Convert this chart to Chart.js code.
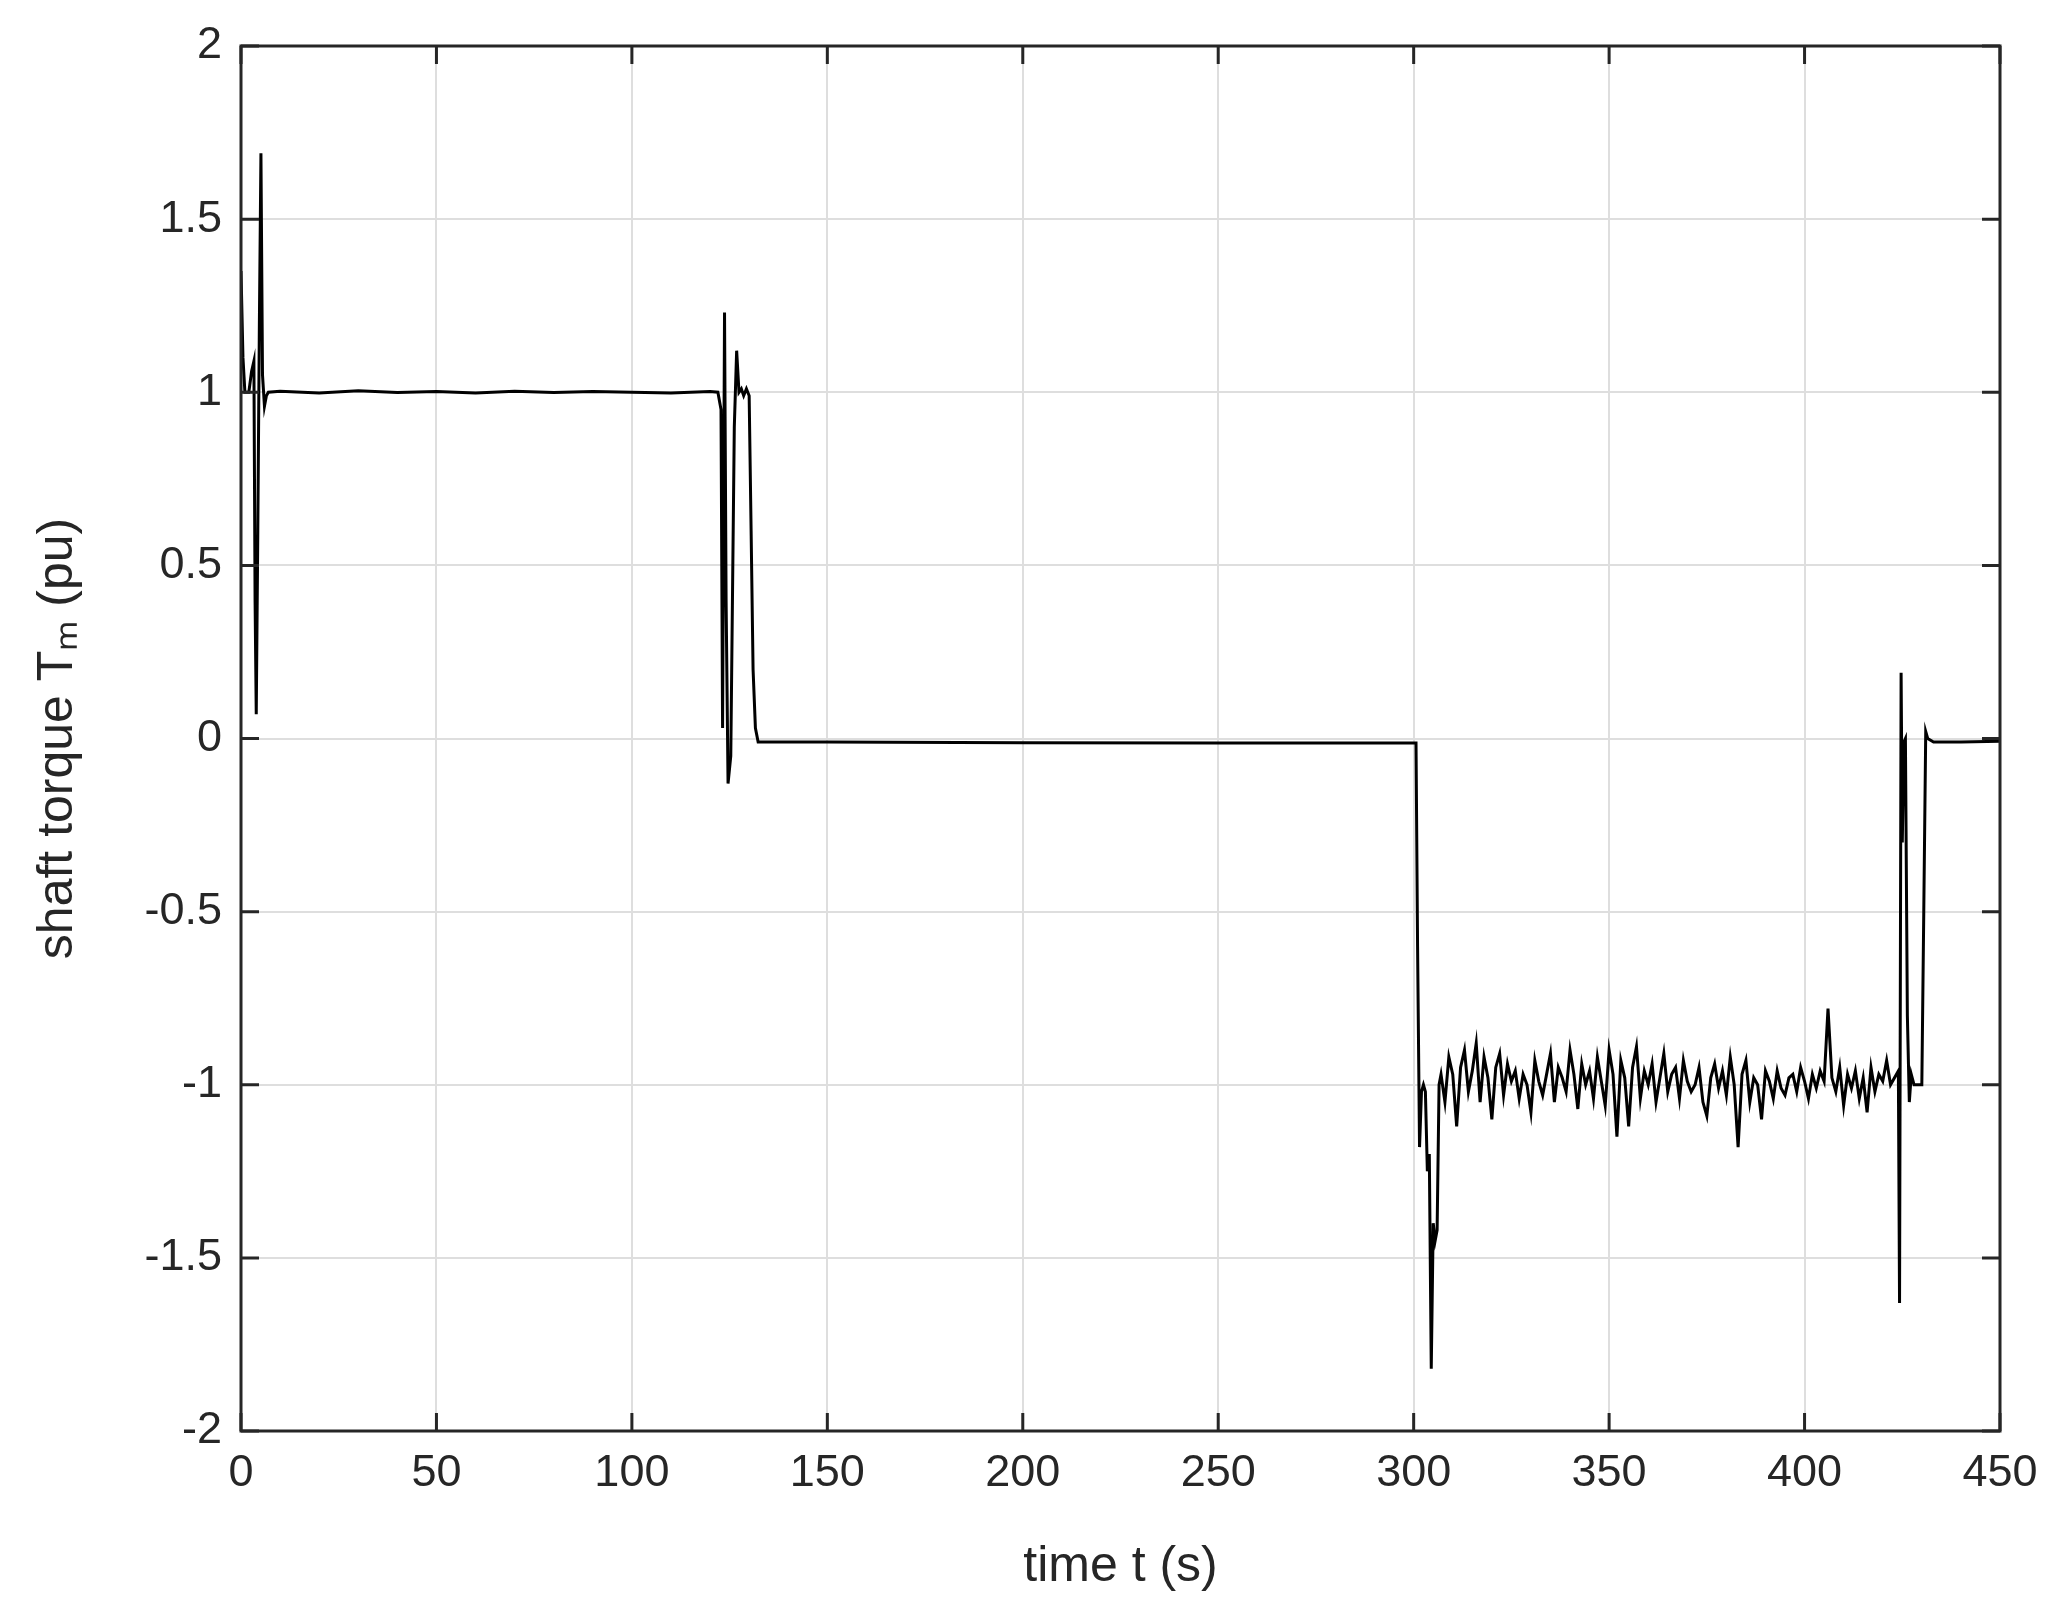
<!DOCTYPE html>
<html>
<head>
<meta charset="utf-8">
<script src="https://cdn.jsdelivr.net/npm/chart.js@4"></script>
<style>
  html, body { margin: 0; padding: 0; background: #fff; }
  #wrap { width: 2058px; height: 1623px; }
</style>
</head>
<body>
<div id="wrap"><canvas id="chart"></canvas></div>
<script>
// time (s) and shaft torque (pu)
const startTime = [0, 0.5, 1, 2, 2.7, 3.3, 3.6, 3.9, 4.3, 4.7, 5.1, 5.5, 6, 6.5, 7, 10, 20, 30, 40, 50, 60, 70, 80, 90, 100, 110, 120, 122];
const startTorque = [1.35, 1.1, 1.0, 1.0, 1.06, 1.09, 0.4, 0.07, 0.6, 1.2, 1.69, 1.05, 0.96, 0.99, 1.0, 1.003, 0.998, 1.004, 0.999, 1.002, 0.998, 1.003, 0.999, 1.002, 1.0, 0.998, 1.002, 1.0];

const midTime = [122.8, 123.2, 123.7, 124.1, 124.6, 125.3, 126.2, 126.8, 127.4, 128, 128.6, 129.3, 130, 130.5, 131, 131.6, 132.3, 133, 150, 200, 250, 300, 300.6];
const midTorque = [0.95, 0.03, 1.23, 0.4, -0.13, -0.05, 0.9, 1.12, 1.0, 1.01, 0.99, 1.01, 0.99, 0.6, 0.2, 0.03, -0.01, -0.01, -0.01, -0.012, -0.013, -0.013, -0.013];

const dropTime = [301, 301.5, 302, 302.5, 303, 303.5, 304, 304.5, 305, 305.5, 306, 306.5];
const dropTorque = [-0.6, -1.18, -1.02, -1.0, -1.02, -1.25, -1.2, -1.82, -1.4, -1.45, -1.42, -1.0];

const noiseStart = 307;
const noiseTorque = [
  -0.97, -1.05, -0.92, -0.97, -1.12, -0.95, -0.9, -1.02, -0.96, -0.88, -1.05, -0.92,
  -0.98, -1.1, -0.95, -0.91, -1.03, -0.94, -0.99, -0.96, -1.04, -0.97, -1.0, -1.08,
  -0.93, -0.99, -1.03, -0.97, -0.91, -1.05, -0.95, -0.98, -1.02, -0.9, -0.97, -1.07,
  -0.94, -1.0, -0.96, -1.04, -0.92, -0.99, -1.06, -0.9, -0.97, -1.15, -0.93, -0.98,
  -1.12, -0.95, -0.89, -1.04, -0.96, -1.0, -0.94, -1.05, -0.98, -0.91, -1.02, -0.97,
  -0.95, -1.04, -0.93, -0.99, -1.02, -1.0, -0.95, -1.05, -1.09, -0.98, -0.94, -1.01,
  -0.96, -1.03, -0.92, -1.0, -1.18, -0.97, -0.93, -1.05, -0.98, -1.0, -1.1, -0.96,
  -0.99, -1.04, -0.96, -1.01, -1.03, -0.98, -0.97, -1.02, -0.95, -0.99, -1.04, -0.97,
  -1.01, -0.96, -0.99, -0.78, -0.98, -1.02, -0.95, -1.06, -0.97, -1.01, -0.96, -1.04,
  -0.98, -1.08, -0.95, -1.02, -0.97, -0.99, -0.93, -1.0
];

const endTime = [424, 424.3, 424.7, 425, 425.4, 425.8, 426.3, 426.8, 427.3, 428, 429, 430, 430.5, 431, 431.5, 433, 440, 450];
const endTorque = [-0.96, -1.63, 0.19, -0.3, -0.01, 0.0, -0.8, -1.05, -0.97, -1.0, -1.0, -1.0, -0.5, 0.02, 0.0, -0.01, -0.01, -0.008];

const xTicks = [0, 50, 100, 150, 200, 250, 300, 350, 400, 450];
const yTicks = [-2, -1.5, -1, -0.5, 0, 0.5, 1, 1.5, 2];

const points = [];
startTime.forEach((t, i) => points.push({ x: t, y: startTorque[i] }));
midTime.forEach((t, i) => points.push({ x: t, y: midTorque[i] }));
dropTime.forEach((t, i) => points.push({ x: t, y: dropTorque[i] }));
noiseTorque.forEach((v, i) => points.push({ x: noiseStart + i, y: v }));
endTime.forEach((t, i) => points.push({ x: t, y: endTorque[i] }));

const textColor = '#262626';
const fontFamily = 'Arial, "Liberation Sans", sans-serif';

// MATLAB-style box with inward ticks on all four sides
const boxPlugin = {
  id: 'box',
  afterDraw(chart) {
    const { ctx, chartArea: a, scales } = chart;
    ctx.save();
    ctx.strokeStyle = textColor;
    ctx.lineWidth = 3;
    ctx.strokeRect(a.left, a.top, a.right - a.left, a.bottom - a.top);
    const len = 18;
    ctx.beginPath();
    xTicks.forEach(v => {
      const px = scales.x.getPixelForValue(v);
      ctx.moveTo(px, a.bottom); ctx.lineTo(px, a.bottom - len);
      ctx.moveTo(px, a.top); ctx.lineTo(px, a.top + len);
    });
    yTicks.forEach(v => {
      const py = scales.y.getPixelForValue(v);
      ctx.moveTo(a.left, py); ctx.lineTo(a.left + len, py);
      ctx.moveTo(a.right, py); ctx.lineTo(a.right - len, py);
    });
    ctx.stroke();
    ctx.restore();
  }
};

new Chart(document.getElementById('chart'), {
  type: 'line',
  data: {
    datasets: [{
      data: points,
      borderColor: '#000',
      borderWidth: 3,
      pointRadius: 0,
      tension: 0
    }]
  },
  options: {
    responsive: true,
    maintainAspectRatio: false,
    animation: false,
    layout: { padding: { top: 40, right: 58, left: 24, bottom: 22 } },
    plugins: { legend: { display: false }, tooltip: { enabled: false } },
    scales: {
      x: {
        type: 'linear', min: 0, max: 450,
        afterBuildTicks: s => { s.ticks = xTicks.map(v => ({ value: v })); },
        afterFit: s => { s.height = 170; },
        grid: { color: '#dedede', lineWidth: 2, drawTicks: false },
        border: { display: false },
        ticks: { color: textColor, font: { family: fontFamily, size: 45 }, padding: 16, maxRotation: 0, callback: v => String(v) },
        title: { display: true, text: 'time t (s)', color: textColor, font: { family: fontFamily, size: 50 }, padding: { top: 4 } }
      },
      y: {
        type: 'linear', min: -2, max: 2,
        afterBuildTicks: s => { s.ticks = yTicks.map(v => ({ value: v })); },
        afterFit: s => { s.width = 217; },
        grid: { color: '#dedede', lineWidth: 2, drawTicks: false },
        border: { display: false },
        ticks: { color: textColor, font: { family: fontFamily, size: 45 }, padding: 19, callback: v => String(v) },
        title: { display: true, text: 'shaft torque Tₘ (pu)', color: textColor, font: { family: fontFamily, size: 50 }, padding: { bottom: 10 } }
      }
    }
  },
  plugins: [boxPlugin]
});
</script>
</body>
</html>
